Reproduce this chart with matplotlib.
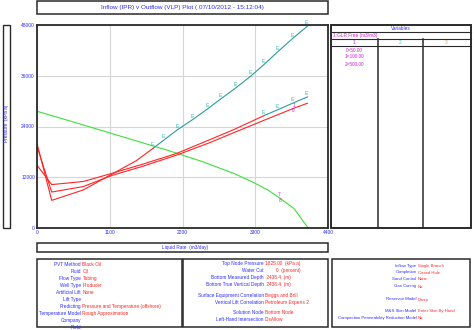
import matplotlib
matplotlib.use('Agg')
import matplotlib.pyplot as plt
from matplotlib.patches import Rectangle
from matplotlib.lines import Line2D

plt.rcParams['font.family'] = ['Liberation Sans', 'DejaVu Sans']

# ---- data ----
rate_ticks = [0, 1100, 2200, 3300, 4400]
pres_ticks = [0, 12000, 24000, 36000, 48000]

# IPR (green)
ipr_rate = [0, 500, 1000, 1500, 2000, 2500, 3000, 3300, 3500, 3660, 3888, 4100]
ipr_pres = [27600, 25300, 22950, 20600, 18250, 15700, 12750, 10550, 8900, 7200, 4560, 0]

# VLP curves (red), one per GLR sensitivity
vlp_a_rate = [0, 222, 700, 1128, 1600, 2110, 2600, 2981, 3435]
vlp_a_pres = [14850, 10260, 11000, 12900, 15100, 17630, 20800, 23300, 26600]
vlp_b_rate = [0, 222, 700, 1128, 1600, 2110, 2600, 3000, 3500, 3880, 4090]
vlp_b_pres = [19300, 8500, 9800, 12400, 14600, 17230, 20100, 22700, 25900, 28300, 29500]
vlp_c_rate = [0, 222, 700, 1128, 1500, 1760]
vlp_c_pres = [20000, 6530, 9000, 12700, 15900, 18900]

# flagged ("E") parts of the VLP curves (teal)
flag_c_rate = [1760, 1924, 2126, 2353, 2579, 2780, 3007, 3234, 3435, 3637, 3864, 4090]
flag_c_pres = [18900, 20870, 23250, 25630, 28170, 30540, 33150, 35940, 38690, 41640, 44800, 47750]
flag_a_rate = [3435, 3646, 3864, 4090]
flag_a_pres = [26600, 28000, 29500, 31000]

glr_values = ['0=50.00', '1=100.00', '2=500.00']

left_info = [('PVT Method', 'Black Oil'), ('Fluid', 'Oil'), ('Flow Type', 'Tubing'),
             ('Well Type', 'Producer'), ('Artificial Lift', 'None'), ('Lift Type', ''),
             ('Predicting', 'Pressure and Temperature (offshore)'),
             ('Temperature Model', 'Rough Approximation'), ('Company', ''), ('Field', '')]
mid_info = [('Top Node Pressure', '1825.00  (kPa a)'), ('Water Cut', '        0  (percent)'),
            ('Bottom Measured Depth', ' 2438.4  (m)'), ('Bottom True Vertical Depth', ' 2438.4  (m)'),
            ('Surface Equipment Correlation', 'Beggs and Brill'),
            ('Vertical Lift Correlation', 'Petroleum Experts 2'),
            ('Solution Node', 'Bottom Node'), ('Left-Hand Intersection', 'DisAllow')]
right_info = [('Inflow Type', 'Single Branch'), ('Completion', 'Cased Hole'),
              ('Sand Control', 'None'), ('Gas Coning', 'No'), ('Reservoir Model', 'Darcy'),
              ('M&S Skin Model', 'Enter Skin By Hand'),
              ('Compaction Permeability Reduction Model', 'No')]
mid_rows_y = [264, 270.7, 277.8, 284.7, 295.7, 302.5, 312.7, 319.8]
right_rows_y = [265.5, 272.5, 279.5, 286.5, 299.5, 311.3, 318.3]

BLUE = '#2d2dff'
RED = '#ff2424'
MAG = '#d020d0'
TEAL = '#2a9c9c'
TEAL_L = '#38bcbc'
GREEN = '#3ce03c'
EDGE = '#2a2a2a'
FS = 3.4

W, H = 474, 330
fig = plt.figure(figsize=(W / 100, H / 100), dpi=100)
fig.patch.set_facecolor('white')

def fx(x): return x / W
def fy(y): return 1 - y / H

def box(x0, y0, x1, y1, lw=1.0):
    fig.add_artist(Rectangle((fx(x0), fy(y1)), fx(x1) - fx(x0), fy(y0) - fy(y1),
                             transform=fig.transFigure, fill=False, ec=EDGE, lw=lw))

def seg(x0, y0, x1, y1, lw=0.8):
    fig.add_artist(Line2D([fx(x0), fx(x1)], [fy(y0), fy(y1)], transform=fig.transFigure,
                          color=EDGE, lw=lw))

def txt(x, y, s, **kw):
    kw.setdefault('fontsize', FS)
    kw.setdefault('va', 'center')
    fig.text(fx(x), fy(y), s, **kw)

# ---- main plot ----
ax = fig.add_axes([fx(37), fy(228), fx(328) - fx(37), fy(25) - fy(228)])
ax.set_xlim(0, 4400); ax.set_ylim(0, 48000)
ax.set_xticks(rate_ticks); ax.set_yticks(pres_ticks)
ax.set_xticklabels([str(v) for v in rate_ticks]); ax.set_yticklabels([str(v) for v in pres_ticks])
ax.grid(color='#d6d6d6', lw=0.8)
ax.set_axisbelow(True)
ax.tick_params(length=0, labelsize=3.5, labelcolor=BLUE, pad=1.5)
for s in ax.spines.values():
    s.set_color(EDGE); s.set_linewidth(1.3)

ax.plot(ipr_rate, ipr_pres, color=GREEN, lw=0.8)
ax.plot(vlp_a_rate, vlp_a_pres, color=RED, lw=0.8)
ax.plot(vlp_b_rate, vlp_b_pres, color=RED, lw=0.8)
ax.plot(vlp_c_rate, vlp_c_pres, color=RED, lw=0.8)
ax.plot(flag_c_rate, flag_c_pres, color=TEAL, lw=0.8)
ax.plot(flag_a_rate, flag_a_pres, color=TEAL, lw=0.8)

for q, p in list(zip(flag_c_rate, flag_c_pres)) + list(zip(flag_a_rate, flag_a_pres)):
    ax.annotate('E', (q, p), xytext=(-0.5, 2.4), textcoords='offset points',
                fontsize=3.7, color=TEAL_L, ha='center', va='center')
ax.annotate('1', (vlp_b_rate[9], vlp_b_pres[9]), xytext=(0, 1.8), textcoords='offset points',
            fontsize=3.4, color=MAG, ha='center', va='center')
ax.annotate('0', (vlp_b_rate[9], vlp_b_pres[9]), xytext=(0, -1.8), textcoords='offset points',
            fontsize=3.4, color=MAG, ha='center', va='center')
ax.annotate('7', (ipr_rate[9], ipr_pres[9]), xytext=(0, 2.0), textcoords='offset points',
            fontsize=3.4, color=MAG, ha='center', va='center')
ax.annotate('8', (ipr_rate[9], ipr_pres[9]), xytext=(1, -2.2), textcoords='offset points',
            fontsize=3.4, color=MAG, ha='center', va='center')

# ---- title / axis label boxes ----
box(36.7, 0.6, 327.7, 14, lw=1.1)
txt(182, 7.5, 'Inflow (IPR) v Outflow (VLP) Plot ( 07/10/2012 - 15:12:04)',
    fontsize=4.6, color=BLUE, ha='center')
box(3.3, 25.3, 10, 228, lw=1.0)
txt(6.8, 123, 'Pressure  (kPa a)', color=BLUE, ha='center', rotation=90)
box(36.5, 243.3, 328, 251.7, lw=1.1)
txt(185, 247.5, 'Liquid Rate  (m3/day)', color=BLUE, ha='center')

# ---- variables table ----
box(331, 25, 471, 228, lw=1.4)
seg(331, 31.7, 471, 31.7)
seg(331, 39, 471, 39)
seg(331, 46, 471, 46)
seg(377.7, 39, 377.7, 228, lw=1.1)
seg(423.3, 39, 423.3, 228, lw=1.1)
txt(401, 28.4, 'Variables', color=BLUE, ha='center')
txt(333, 35.4, '1:GLR Free (m3/m3)', color=MAG, ha='left')
txt(354.3, 42.5, '1', color=MAG, ha='center')
txt(400.5, 42.5, '2', color=TEAL_L, ha='center')
txt(446, 42.5, '3', color='#f0a030', ha='center')
for i, v in enumerate(glr_values):
    txt(354.3, 50 + 7 * i, v, color=MAG, ha='center')

# ---- info boxes ----
box(36.7, 259, 181.7, 327, lw=1.1)
box(183.3, 259, 328.3, 327, lw=1.1)
box(331.7, 259, 470, 327, lw=1.1)
for i, (lab, val) in enumerate(left_info):
    y = 264 + 7.07 * i
    txt(81, y, lab, color=BLUE, ha='right')
    txt(82.5, y, val, color=RED, ha='left')
for (lab, val), y in zip(mid_info, mid_rows_y):
    txt(263.5, y, lab, color=BLUE, ha='right')
    txt(265, y, val, color=RED, ha='left')
for (lab, val), y in zip(right_info, right_rows_y):
    txt(416.5, y, lab, color=BLUE, ha='right', fontsize=3.05)
    txt(418, y, val, color=RED, ha='left', fontsize=3.05)

fig.savefig('out.png', dpi=100)
plt.close(fig)
